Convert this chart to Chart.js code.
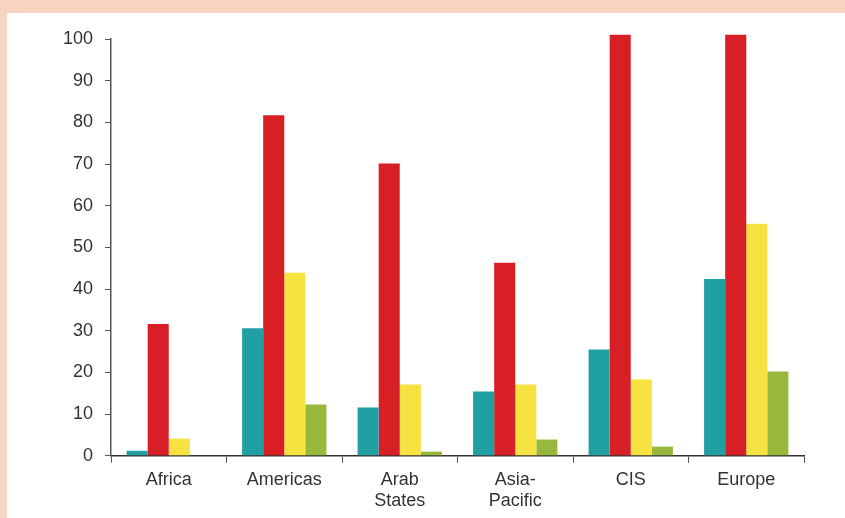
<!DOCTYPE html>
<html>
<head>
<meta charset="utf-8">
<script src="https://cdn.jsdelivr.net/npm/chart.js@4/dist/chart.umd.min.js"></script>
<style>
    html, body { margin: 0; padding: 0; }
    body { width: 845px; height: 518px; background: #f7d3c4; position: relative; overflow: hidden; }
    .panel { position: absolute; left: 7px; top: 13px; right: 0; bottom: 0; background: #fff; }
    #chart { position: absolute; left: 0; top: 0; }
</style>
</head>
<body>
<div class="panel"></div>
<canvas id="chart" width="845" height="518"></canvas>
<script>
// data
const regions = ['Africa', 'Americas', ['Arab', 'States'], ['Asia-', 'Pacific'], 'CIS', 'Europe'];
const tealSeries = [1.2, 30.6, 11.6, 15.4, 25.5, 42.4];
const redSeries = [31.6, 81.7, 70.1, 46.3, 101, 101];
const yellowSeries = [4.1, 43.9, 17.1, 17.1, 18.3, 55.7];
const greenSeries = [0, 12.3, 1.0, 3.9, 2.2, 20.2];

const fontFamily = '"Liberation Sans Narrow", "Arial Narrow", "Liberation Sans", sans-serif';
const textColor = '#333333';
const axisColor = '#555555';

const makeSet = (data, color) => ({
    data: data,
    backgroundColor: color,
    borderWidth: 0,
    barPercentage: 1,
    categoryPercentage: 0.73,
    clip: false,
});

new Chart(document.getElementById('chart').getContext('2d'), {
    type: 'bar',
    data: {
        labels: regions,
        datasets: [
            makeSet(tealSeries, '#20a0a3'),
            makeSet(redSeries, '#d91f26'),
            makeSet(yellowSeries, '#f6e241'),
            makeSet(greenSeries, '#97b83c'),
        ],
    },
    options: {
        responsive: false,
        animation: false,
        layout: { padding: { left: 0, right: 41, top: 39, bottom: 0 } },
        plugins: {
            legend: { display: false },
            tooltip: { enabled: false },
        },
        scales: {
            x: {
                grid: { offset: true, drawOnChartArea: false, tickLength: 7, color: axisColor },
                border: { color: '#333333', width: 1.5 },
                ticks: { color: textColor, font: { family: fontFamily, size: 18 }, padding: 6, maxRotation: 0 },
            },
            y: {
                min: 0,
                max: 100,
                afterFit: (scale) => { scale.width = 111; },
                grid: { drawOnChartArea: false, tickLength: 6, color: axisColor },
                border: { color: axisColor, width: 1.5 },
                ticks: { stepSize: 10, color: textColor, font: { family: fontFamily, size: 18 }, padding: 12 },
            },
        },
    },
});
</script>
</body>
</html>
